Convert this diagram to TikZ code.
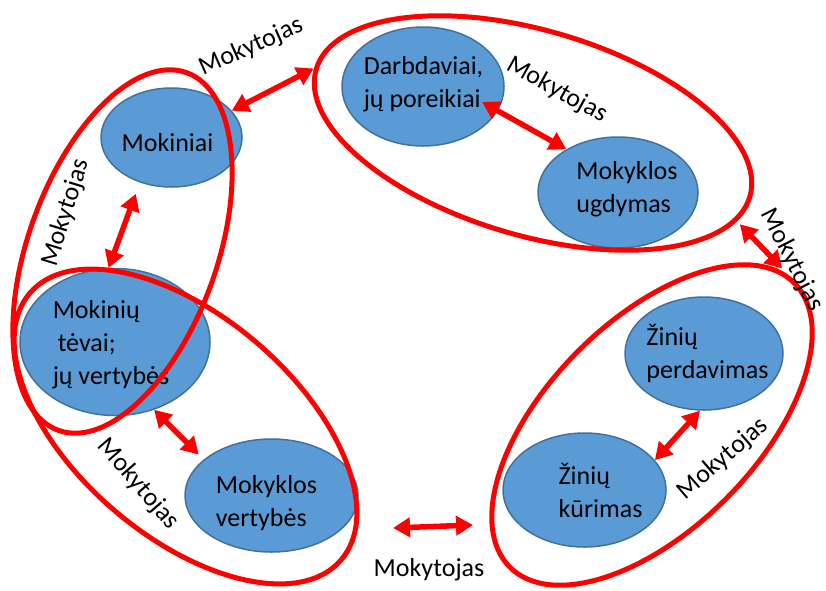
\documentclass[tikz,border=0pt]{standalone}
\usepackage{fontspec}
\setmainfont{Carlito}
\usetikzlibrary{arrows.meta}
\usetikzlibrary{shapes}
\definecolor{blobfill}{HTML}{5B9BD5}
\definecolor{blobline}{HTML}{41719C}
\definecolor{grpred}{HTML}{FF0000}

\begin{document}
\begin{tikzpicture}[x=1pt,y=-1pt]
                \tikzstyle{every node}=[font=\fontsize{26}{33}\selectfont]
                \tikzstyle{blob}=[ellipse, draw=blobline, line width=1.5pt, fill=blobfill, inner sep=0pt]
                \tikzstyle{txt}=[align=left, inner sep=0pt]
                \tikzstyle{grp}=[ellipse, draw=grpred, line width=5pt, inner sep=0pt]
                \tikzstyle{twoway}=[{Triangle[length=17pt,width=19pt]}-{Triangle[length=17pt,width=19pt]}, draw=grpred, fill=grpred, line width=5.5pt]
                \tikzstyle{teacher}=[inner sep=0pt]
                \useasboundingbox (0,0) rectangle (826,590);

                \node[blob, minimum width=141pt, minimum height=99pt] (mokiniai) at (171.5,137.5) {};
                \node[blob, minimum width=162pt, minimum height=119pt] (darbdaviai) at (423,86.5) {};
                \node[blob, minimum width=160pt, minimum height=111pt] (ugdymas) at (618,192.5) {};
                \node[blob, minimum width=190pt, minimum height=147pt] (tevai) at (115,342) {};
                \node[blob, minimum width=173pt, minimum height=113pt] (mokvert) at (271.5,495.5) {};
                \node[blob, minimum width=158pt, minimum height=113pt] (perdavimas) at (704,353.5) {};
                \node[blob, minimum width=163pt, minimum height=114pt] (kurimas) at (584.5,490) {};

                \node[txt] (mokiniaiT) at (167.5,143) {Mokiniai};
                \node[txt] (darbdaviaiT) at (423.5,84) {Darbdaviai,\\jų poreikiai};
                \node[txt] (ugdymasT) at (627,189.5) {Mokyklos\\ugdymas};
                \node[txt] (tevaiT) at (111,344.5) {Mokinių\\\hspace*{5pt}tėvai;\\jų vertybės};
                \node[txt] (mokvertT) at (266.5,503) {Mokyklos\\vertybės};
                \node[txt] (perdavimasT) at (707.5,353) {Žinių\\perdavimas};
                \node[txt] (kurimasT) at (600.5,490.5) {Žinių\\kūrimas};

                \node[grp, minimum width=380pt, minimum height=189pt, rotate=70.3] (grpTL) at (122.5,251.5) {};
                \node[grp, minimum width=452pt, minimum height=205pt, rotate=-16.4] (grpTR) at (533,133) {};
                \node[grp, minimum width=410pt, minimum height=220pt, rotate=-40.6] (grpBL) at (185.5,426.5) {};
                \node[grp, minimum width=402pt, minimum height=209pt, rotate=45] (grpBR) at (652,425) {};

                \coordinate (hl) at (393,528);
                \coordinate (hr) at (473,525);

                \draw[twoway] (mokiniai.24) -- (grpTR.west);
                \draw[twoway, shorten <=-18pt] (darbdaviai.-18) -- (ugdymas.140);
                \draw[twoway, shorten <=12pt] (mokiniai.235) -- (tevai.95);
                \draw[twoway, shorten <=4pt, shorten >=8pt] (grpTR.-7) -- (grpBR.3);
                \draw[twoway, shorten >=7pt] (tevai.-60) -- (mokvert.152);
                \draw[twoway] (hl) -- (hr);
                \draw[twoway] (perdavimas.266) -- (kurimas.23);

                \node[teacher, rotate=24] (tch1) at (251,47) {Mokytojas};
                \node[teacher, rotate=-29] (tch2) at (557,90) {Mokytojas};
                \node[teacher, rotate=73] (tch3) at (66,213) {Mokytojas};
                \node[teacher, rotate=-63] (tch4) at (792,260) {Mokytojas};
                \node[teacher, rotate=-49] (tch5) at (138,484) {Mokytojas};
                \node[teacher] (tch6) at (429,570) {Mokytojas};
                \node[teacher, rotate=41] (tch7) at (723,459) {Mokytojas};
            \end{tikzpicture}
\end{document}
